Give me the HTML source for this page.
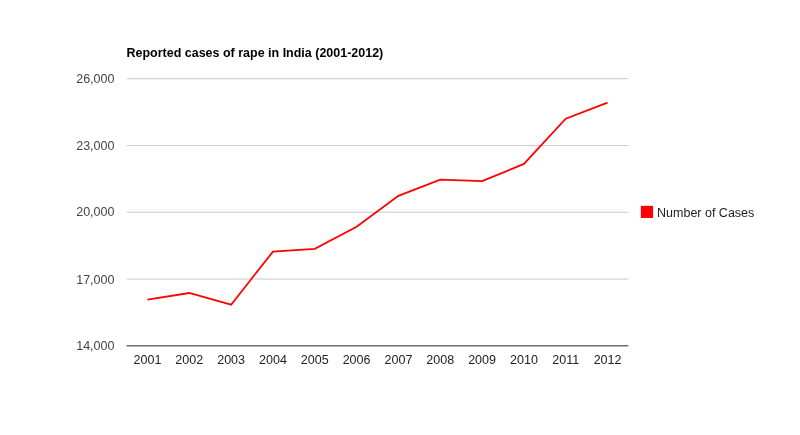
<!DOCTYPE html>
<html><head><meta charset="utf-8"><title>Reported cases of rape in India (2001-2012)</title>
<style>
html,body{margin:0;padding:0;background:#ffffff;}
body{width:800px;height:435px;overflow:hidden;}
svg{display:block;font-family:"Liberation Sans",Arial,sans-serif;}
</style></head><body>
<svg width="800" height="435" viewBox="0 0 765 416" preserveAspectRatio="none">
<rect x="0" y="0" width="765" height="416" fill="#ffffff"/>
<text x="121" y="54.4" font-size="11.95" font-weight="bold" fill="#000000">Reported cases of rape in India (2001-2012)</text>
<rect x="612.8" y="196.85" width="11.7" height="11.6" fill="#ff0000"/>
<text x="628.3" y="207.25" font-size="11.96" fill="#222222">Number of Cases</text>
<rect x="121" y="266.36" width="480" height="1" fill="#cccccc"/>
<rect x="121" y="202.50" width="480" height="1" fill="#cccccc"/>
<rect x="121" y="138.64" width="480" height="1" fill="#cccccc"/>
<rect x="121" y="74.78" width="480" height="1" fill="#cccccc"/>
<rect x="121" y="330.22" width="480" height="1" fill="#333333"/>
<path d="M141.00,286.55L181.00,280.21L221.00,291.40L261.00,240.61L301.00,237.93L341.00,216.88L381.00,187.31L421.00,171.77L461.00,173.26L501.00,156.77L541.00,113.47L581.00,98.21" fill="none" stroke="#ff0000" stroke-width="1.7"/>
<text x="109.5" y="335.12" text-anchor="end" font-size="12" fill="#444444">14,000</text>
<text x="109.5" y="271.51" text-anchor="end" font-size="12" fill="#444444">17,000</text>
<text x="109.5" y="206.90" text-anchor="end" font-size="12" fill="#444444">20,000</text>
<text x="109.5" y="143.34" text-anchor="end" font-size="12" fill="#444444">23,000</text>
<text x="109.5" y="79.68" text-anchor="end" font-size="12" fill="#444444">26,000</text>
<text x="141.00" y="348.2" text-anchor="middle" font-size="12" fill="#222222">2001</text>
<text x="181.00" y="348.2" text-anchor="middle" font-size="12" fill="#222222">2002</text>
<text x="221.00" y="348.2" text-anchor="middle" font-size="12" fill="#222222">2003</text>
<text x="261.00" y="348.2" text-anchor="middle" font-size="12" fill="#222222">2004</text>
<text x="301.00" y="348.2" text-anchor="middle" font-size="12" fill="#222222">2005</text>
<text x="341.00" y="348.2" text-anchor="middle" font-size="12" fill="#222222">2006</text>
<text x="381.00" y="348.2" text-anchor="middle" font-size="12" fill="#222222">2007</text>
<text x="421.00" y="348.2" text-anchor="middle" font-size="12" fill="#222222">2008</text>
<text x="461.00" y="348.2" text-anchor="middle" font-size="12" fill="#222222">2009</text>
<text x="501.00" y="348.2" text-anchor="middle" font-size="12" fill="#222222">2010</text>
<text x="541.00" y="348.2" text-anchor="middle" font-size="12" fill="#222222">2011</text>
<text x="581.00" y="348.2" text-anchor="middle" font-size="12" fill="#222222">2012</text>
</svg>
</body></html>
